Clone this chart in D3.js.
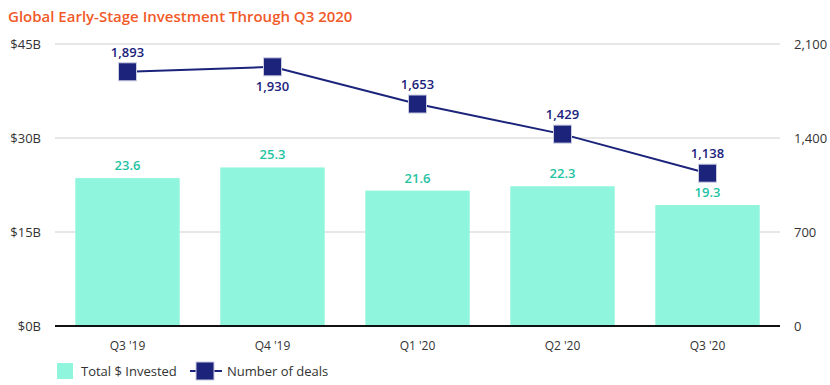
<!DOCTYPE html>
<html>
<head>
<meta charset="utf-8">
<script src="https://cdnjs.cloudflare.com/ajax/libs/d3/7.8.5/d3.min.js"></script>
<style>
  body { margin: 0; background: #fff; }
  text { font-family: "Open Sans", "Noto Sans", sans-serif; }
</style>
</head>
<body>
<div id="chart"></div>
<script>
var quarters = ["Q3 '19", "Q4 '19", "Q1 '20", "Q2 '20", "Q3 '20"];
var invested = [23.6, 25.3, 21.6, 22.3, 19.3];
var deals = [1893, 1930, 1653, 1429, 1138];
var leftTicks = [0, 15, 30, 45];
var rightTicks = [0, 700, 1400, 2100];

var W = 830, H = 385;
var m = {left: 55, right: 50, top: 44, bottom: 59};

var svg = d3.select('#chart').append('svg')
  .attr('width', W).attr('height', H);

svg.append('text')
  .attr('x', 8).attr('y', 22)
  .attr('fill', '#f15a29')
  .attr('font-size', 15)
  .attr('font-weight', 600)
  .text('Global Early-Stage Investment Through Q3 2020');

var x = d3.scaleBand().domain(quarters)
  .range([m.left, W - m.right]).paddingInner(0.28).paddingOuter(0.14);
var yL = d3.scaleLinear().domain([0, 45]).range([H - m.bottom, m.top]);
var yR = d3.scaleLinear().domain([0, 2100]).range([H - m.bottom, m.top]);

// gridlines
svg.append('g').selectAll('line').data(leftTicks.slice(1)).enter().append('line')
  .attr('x1', m.left).attr('x2', W - m.right)
  .attr('y1', function(d){ return yL(d); })
  .attr('y2', function(d){ return yL(d); })
  .attr('stroke', '#cfcfcf').attr('stroke-width', 1);

// left axis
var axL = svg.append('g').attr('transform', 'translate(' + (m.left - 11) + ',0)')
  .call(d3.axisLeft(yL).tickValues(leftTicks).tickSize(0)
    .tickFormat(function(d){ return '$' + d + 'B'; }));
axL.select('.domain').remove();
axL.selectAll('text').attr('font-size', 13).attr('fill', '#333')
  .style('font-family', '"Open Sans", sans-serif');

// right axis
var axR = svg.append('g').attr('transform', 'translate(' + (W - m.right + 11) + ',0)')
  .call(d3.axisRight(yR).tickValues(rightTicks).tickSize(0)
    .tickFormat(d3.format(',')));
axR.select('.domain').remove();
axR.selectAll('text').attr('font-size', 13).attr('fill', '#333')
  .style('font-family', '"Open Sans", sans-serif');

// bars
svg.append('g').selectAll('rect').data(invested).enter().append('rect')
  .attr('x', function(d, i){ return x(quarters[i]); })
  .attr('width', x.bandwidth())
  .attr('y', function(d){ return yL(d); })
  .attr('height', function(d){ return yL(0) - yL(d); })
  .attr('fill', '#8ff5dc');

svg.append('g').selectAll('text').data(invested).enter().append('text')
  .attr('x', function(d, i){ return x(quarters[i]) + x.bandwidth() / 2; })
  .attr('y', function(d){ return yL(d) - 8; })
  .attr('text-anchor', 'middle')
  .attr('font-size', 13).attr('font-weight', 600)
  .attr('fill', '#1fc3a3')
  .text(function(d){ return d.toFixed(1); });

// baseline
svg.append('line')
  .attr('x1', m.left).attr('x2', W - m.right)
  .attr('y1', yL(0)).attr('y2', yL(0))
  .attr('stroke', '#111').attr('stroke-width', 2);

// x axis labels
var axB = svg.append('g').attr('transform', 'translate(0,' + (yL(0) + 12) + ')')
  .call(d3.axisBottom(x).tickSize(0));
axB.select('.domain').remove();
axB.selectAll('text').attr('font-size', 12).attr('fill', '#333')
  .style('font-family', '"Open Sans", sans-serif');

// line
var cx = function(i){ return x(quarters[i]) + x.bandwidth() / 2; };
var line = d3.line().x(function(d, i){ return cx(i); }).y(function(d){ return yR(d); });
svg.append('path').datum(deals)
  .attr('d', line).attr('fill', 'none')
  .attr('stroke', '#1b237b').attr('stroke-width', 2);

svg.append('g').selectAll('rect').data(deals).enter().append('rect')
  .attr('x', function(d, i){ return cx(i) - 9; })
  .attr('y', function(d){ return yR(d) - 9; })
  .attr('width', 18).attr('height', 18)
  .attr('fill', '#1b237b').attr('stroke', '#c9cce0').attr('stroke-width', 1);

svg.append('g').selectAll('text').data(deals).enter().append('text')
  .attr('x', function(d, i){ return cx(i); })
  .attr('y', function(d, i){ return i === 1 ? yR(d) + 24 : yR(d) - 15; })
  .attr('text-anchor', 'middle')
  .attr('font-size', 13).attr('font-weight', 600)
  .attr('fill', '#1b237b')
  .text(function(d){ return d3.format(',')(d); });

// legend
var lg = svg.append('g').attr('transform', 'translate(57,371)');
lg.append('rect').attr('x', 0).attr('y', -8).attr('width', 16).attr('height', 16).attr('fill', '#8ff5dc');
lg.append('text').attr('x', 24).attr('y', 4.5).attr('font-size', 13).attr('fill', '#333').text('Total $ Invested');
lg.append('line').attr('x1', 133).attr('x2', 165).attr('y1', 0).attr('y2', 0)
  .attr('stroke', '#1b237b').attr('stroke-width', 2);
lg.append('rect').attr('x', 139).attr('y', -9).attr('width', 18).attr('height', 18)
  .attr('fill', '#1b237b').attr('stroke', '#c9cce0');
lg.append('text').attr('x', 170).attr('y', 4.5).attr('font-size', 13).attr('fill', '#333').text('Number of deals');
</script>
</body>
</html>
